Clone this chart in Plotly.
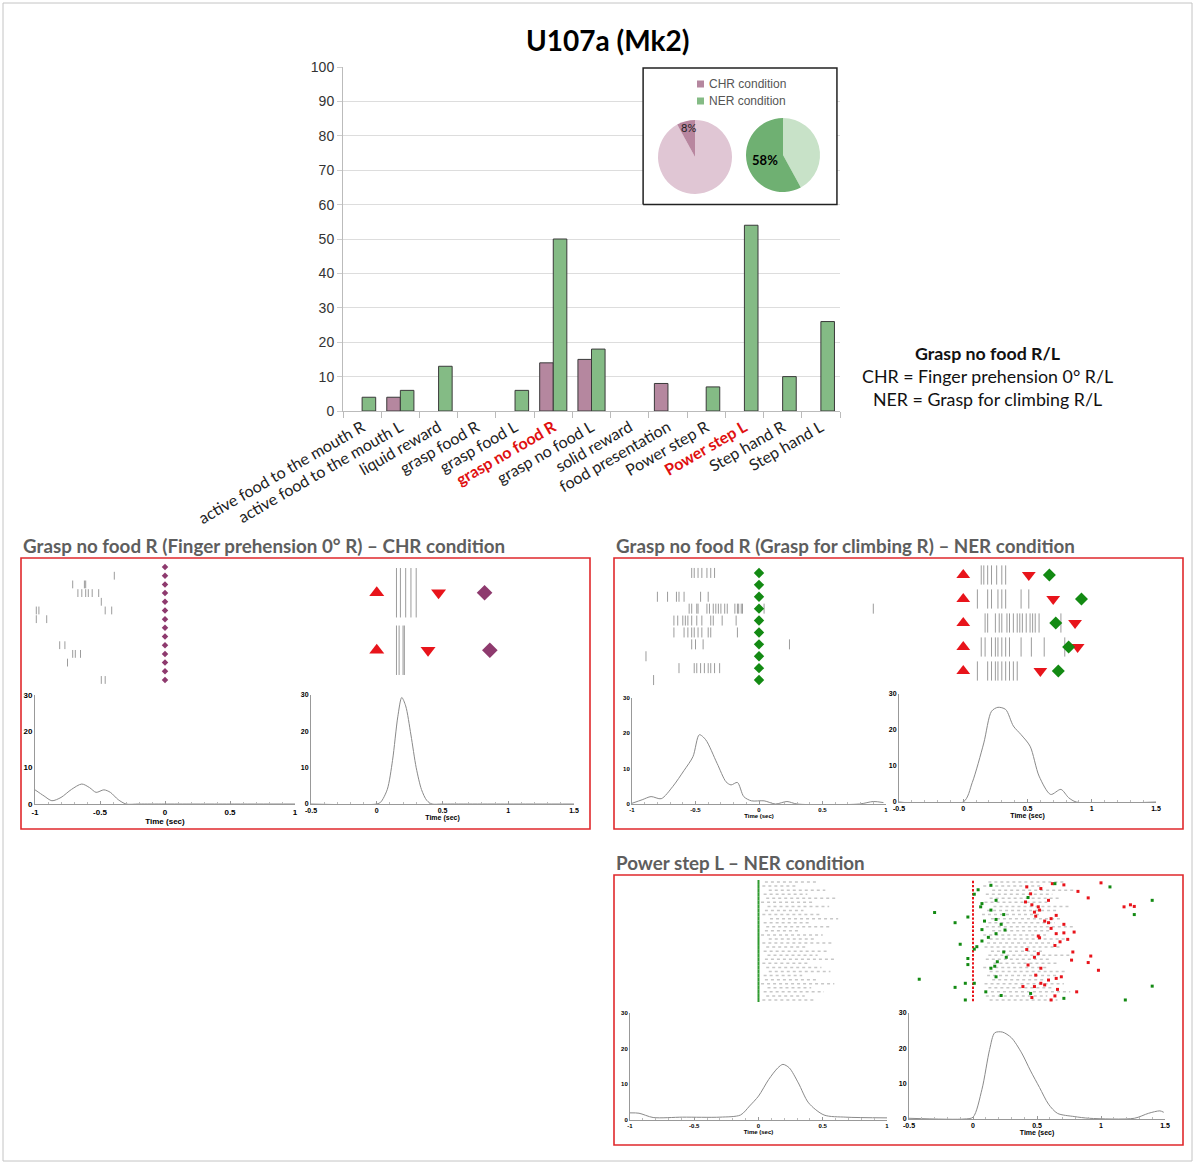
import plotly.graph_objects as go

W, H = 1195, 1164


def X(px):
    return px / W


def Y(py):
    return 1 - py / H


# ---------------- data: bar chart ----------------
categories = ["active food to the mouth R", "active food to the mouth L", "liquid reward",
              "grasp food R", "grasp food L", "grasp no food R", "grasp no food L",
              "solid reward", "food presentation", "Power step R", "Power step L",
              "Step hand R", "Step hand L"]
highlighted = ["grasp no food R", "Power step L"]
series_names = ["CHR condition", "NER condition"]
chr_pct = [0, 4, 0, 0, 0, 14, 15, 0, 8, 0, 0, 0, 0]
ner_pct = [4, 6, 13, 0, 6, 50, 18, 0, 0, 7, 54, 10, 26]
bar_yticks = [0, 10, 20, 30, 40, 50, 60, 70, 80, 90, 100]
# pies: [other, selective] (drawn clockwise from 12 o'clock)
pie_chr_values = [92, 8]
pie_ner_values = [42, 58]

# ---------------- data: panel 1 (CHR, grasp no food R) ----------------
p1_left_spikes = [[], [-0.39], [-0.71, -0.62, -0.61], [-0.67, -0.64, -0.61, -0.59, -0.56, -0.51],
                  [-0.49], [-0.99, -0.97, -0.46, -0.41], [-0.99, -0.91], [], [],
                  [-0.81, -0.77], [-0.71, -0.69, -0.65], [-0.75], [], [-0.49, -0.46]]
p1_left_event = [0, 0, 0, 0, 0, 0, 0, 0, 0, 0, 0, 0, 0, 0]
p1_right_spikes = [[0.15, 0.18, 0.22, 0.26, 0.30], [0.15, 0.17, 0.20, 0.21]]
p1_right_start = [0.0, 0.0]
p1_right_release = [0.47, 0.39]
p1_right_reward = [0.82, 0.86]
p1_left_t = [-1.0, -0.93, -0.87, -0.80, -0.72, -0.64, -0.58, -0.53, -0.47, -0.42, -0.36, -0.30, -0.2, 0.0, 0.5, 1.0]
p1_left_v = [3.9, 2.2, 0.9, 1.8, 4.0, 5.5, 4.5, 3.2, 3.9, 3.2, 1.2, 0, 0, 0, 0, 0]
p1_right_t = [-0.5, 0.0, 0.03, 0.08, 0.12, 0.16, 0.19, 0.22, 0.26, 0.30, 0.34, 0.38, 0.42, 0.5, 1.0, 1.5]
p1_right_v = [0, 0, 0.5, 4, 12, 24, 29.3, 27, 19, 10, 4, 1, 0, 0, 0, 0]

# ---------------- data: panel 2 (NER, grasp no food R) ----------------
p2_left_spikes = [
    [-0.53, -0.51, -0.48, -0.45, -0.41, -0.38, -0.35],
    [],
    [-0.80, -0.72, -0.65, -0.63, -0.59, -0.46, -0.40],
    [-0.55, -0.53, -0.49, -0.48, -0.41, -0.39, -0.36, -0.34, -0.32, -0.30, -0.27, -0.25,
     -0.19, -0.17, -0.16, -0.14, -0.13, 0.04, 0.90],
    [-0.67, -0.64, -0.60, -0.58, -0.56, -0.53, -0.49, -0.45, -0.38, -0.36, -0.29, -0.18],
    [-0.67, -0.59, -0.56, -0.53, -0.51, -0.48, -0.45, -0.40, -0.38, -0.17],
    [-0.53, -0.50, -0.44, 0.24],
    [-0.89],
    [-0.63, -0.51, -0.49, -0.46, -0.43, -0.40, -0.38, -0.35, -0.31],
    [-0.83]]
p2_left_event = [0, 0, 0, 0, 0, 0, 0, 0, 0, 0]
p2_right_spikes = [
    [0.14, 0.16, 0.19, 0.22, 0.26, 0.30, 0.33],
    [0.11, 0.19, 0.22, 0.27, 0.30, 0.33, 0.45, 0.51],
    [0.17, 0.19, 0.25, 0.28, 0.30, 0.34, 0.36, 0.39, 0.42, 0.44, 0.46, 0.49, 0.52, 0.54, 0.56, 0.59, 0.76],
    [0.14, 0.17, 0.22, 0.25, 0.27, 0.30, 0.33, 0.36, 0.45, 0.53, 0.63, 0.79],
    [0.11, 0.19, 0.22, 0.25, 0.27, 0.30, 0.33, 0.36, 0.39, 0.42]]
p2_right_start = [0.0, 0.0, 0.0, 0.0, 0.0]
p2_right_release = [0.51, 0.70, 0.87, 0.89, 0.60]
p2_right_reward = [0.67, 0.92, 0.72, 0.82, 0.74]
p2_left_t = [-1.0, -0.92, -0.85, -0.77, -0.68, -0.59, -0.52, -0.47, -0.42, -0.33, -0.26, -0.22,
             -0.17, -0.12, -0.06, 0.04, 0.13, 0.22, 0.30, 0.79, 0.90, 0.98]
p2_left_v = [0.2, 1.2, 2.1, 1.5, 4.9, 9.5, 13.4, 19.6, 18.2, 11.5, 6.3, 5.4,
             6.1, 2.1, 0.9, 0.9, 0.0, 0.7, 0.0, 0.0, 0.7, 0.4]
p2_right_t = [-0.5, 0.0, 0.07, 0.16, 0.22, 0.27, 0.33, 0.39, 0.45, 0.52, 0.59, 0.68, 0.76, 0.82, 0.88, 1.5]
p2_right_v = [0, 0, 5.4, 16.4, 25.2, 26.3, 25.7, 21.1, 18.7, 15.5, 7.2, 2.1, 3.5, 1.2, 0, 0]

# ---------------- data: panel 3 (NER, Power step L) ----------------
p3_left_burst_start = [0.05, 0.03, 0.08, 0.04, 0.06, 0.02, 0.07, 0.05, 0.03, 0.09, 0.04, 0.06, 0.05, 0.02, 0.08,
                       0.03, 0.06, 0.04, 0.07, 0.05, 0.03, 0.06, 0.08, 0.04, 0.05, 0.02, 0.07, 0.04, 0.06, 0.03]
p3_left_burst_end = [0.45, 0.30, 0.52, 0.38, 0.60, 0.42, 0.55, 0.35, 0.48, 0.62, 0.40, 0.57, 0.33, 0.50, 0.44,
                     0.58, 0.37, 0.53, 0.46, 0.61, 0.39, 0.49, 0.56, 0.34, 0.47, 0.59, 0.41, 0.51, 0.36, 0.43]
p3_right_burst_start = [0.12, 0.08, 0.15, 0.10, 0.13, 0.09, 0.16, 0.11, 0.07, 0.14, 0.12, 0.10, 0.15, 0.08, 0.13,
                        0.11, 0.09, 0.14, 0.12, 0.10, 0.16, 0.08, 0.13, 0.11, 0.15, 0.09, 0.12, 0.14, 0.10, 0.13]
p3_right_burst_end = [0.72, 0.55, 0.80, 0.62, 0.68, 0.58, 0.75, 0.66, 0.52, 0.70, 0.64, 0.78, 0.60, 0.57, 0.74,
                      0.63, 0.69, 0.54, 0.77, 0.61, 0.67, 0.59, 0.73, 0.65, 0.56, 0.71, 0.62, 0.76, 0.58, 0.66]
p3_event = [0.0] * 30
p3_red_t = [0.42, 0.45, 0.53, 0.62, 0.71, 0.82, 0.90, 0.59, 0.41, 0.46, 0.51, 0.48, 0.52, 0.49, 0.56, 0.61, 0.59,
            0.65, 0.71, 0.61, 0.65, 0.74, 0.71, 0.79, 0.51, 0.52, 0.64, 0.68, 0.42, 0.51, 0.78, 0.48, 0.92, 0.77,
            0.90, 0.43, 0.53, 0.98, 0.49, 0.59, 0.65, 0.69, 0.53, 0.48, 0.56, 0.66, 0.39, 0.46, 0.61, 0.64, 0.81,
            1.00, 1.18, 1.23, 1.26]
p3_red_trial = [2.2, 3.9, 2.6, 1.4, 1.7, 3.3, 4.9, 5.5, 5.9, 6.6, 7.1, 8.4, 7.9, 9.4, 10.6, 10.0, 11.0,
                9.2, 11.4, 12.4, 13.7, 15.1, 13.5, 13.3, 14.3, 14.7, 16.6, 15.7, 17.6, 18.6, 18.2, 19.5, 19.2, 20.2,
                20.8, 21.4, 22.2, 22.7, 23.9, 25.1, 24.7, 24.3, 25.9, 26.7, 26.3, 27.4, 26.7, 29.4, 30.0, 29.0, 28.0,
                1.2, 7.1, 6.6, 7.0]
p3_green_t = [0.14, 0.04, 0.01, 0.43, 0.64, 1.07, 0.18, 0.07, 0.06, 0.14, 0.24, -0.30, -0.04, 0.18, 0.09, -0.14,
              0.22, 0.25, 0.07, 0.18, 0.12, 0.07, -0.10, 0.03, 0.01, 0.24, 0.26, -0.04, 0.19, -0.04, 0.14, 0.17,
              -0.42, 0.18, 0.01, -0.06, -0.14, 0.10, 0.45, 0.22, -0.06, 0.71, 1.40, 1.26, 1.40, 1.19]
p3_green_trial = [1.8, 2.9, 4.0, 4.8, 1.4, 2.2, 5.5, 6.3, 7.1, 7.9, 9.0, 8.5, 9.6, 10.2, 10.6, 11.0,
                  11.4, 12.8, 12.7, 13.7, 14.6, 15.5, 16.3, 16.9, 17.5, 18.2, 19.5, 19.8, 20.6, 21.3, 22.2, 21.7,
                  24.9, 24.3, 25.9, 25.9, 26.9, 28.0, 28.4, 28.9, 30.0, 29.6, 5.5, 9.0, 26.6, 30.0]
p3_left_t = [-1.0, -0.93, -0.82, -0.59, -0.30, -0.14, -0.07, 0.0, 0.08, 0.15, 0.19, 0.24, 0.31, 0.39, 0.51, 0.68, 1.0]
p3_left_v = [2.0, 1.9, 0.7, 0.8, 0.8, 1.4, 3.9, 6.7, 11.4, 14.6, 15.6, 14.6, 10.4, 4.8, 1.4, 0.8, 0.6]
p3_right_t = [-0.5, -0.07, 0.0, 0.07, 0.13, 0.17, 0.23, 0.30, 0.38, 0.45, 0.52, 0.59, 0.66, 0.79, 0.91,
              1.26, 1.37, 1.46, 1.49]
p3_right_v = [0.2, 0, 0.5, 8.4, 19.7, 24.4, 24.6, 23.0, 18.7, 13.6, 8.9, 4.2, 1.6, 0.7, 0.2, 0.2, 1.6, 2.3, 1.9]

psth_yticks = [0, 10, 20, 30]
left_xticks = [-1, -0.5, 0, 0.5, 1]
left_xtext = ["-1", "-0.5", "0", "0.5", "1"]
right_xticks = [-0.5, 0, 0.5, 1, 1.5]
right_xtext = ["-0.5", "0", "0.5", "1", "1.5"]

# ---------------- styles ----------------
CHR_COL = "#b5879f"
NER_COL = "#84bb85"
SPIKE = "#9c9c9c"
RED = "#e8141b"
PURPLE = "#8e3a6e"
GREEN = "#138a13"
FONT = "Lato"

fig = go.Figure()
layout = {}

# ---------------- bar chart ----------------
cat_pos = list(range(len(categories)))
fig.add_trace(go.Bar(x=cat_pos, y=[v if v else None for v in chr_pct], name=series_names[0],
                     marker=dict(color=CHR_COL, line=dict(color="#3a3a3a", width=1)),
                     xaxis="x", yaxis="y", hoverinfo="skip", showlegend=False))
fig.add_trace(go.Bar(x=cat_pos, y=[v if v else None for v in ner_pct], name=series_names[1],
                     marker=dict(color=NER_COL, line=dict(color="#3a3a3a", width=1)),
                     xaxis="x", yaxis="y", hoverinfo="skip", showlegend=False))

# white inset box (legend + pies) drawn above gridlines
bx0, bx1 = 7.35, 12.42
by0, by1 = 60, 99.7
fig.add_trace(go.Scatter(x=[bx0, bx1, bx1, bx0, bx0], y=[by0, by0, by1, by1, by0], mode="lines",
                         fill="toself", fillcolor="white", line=dict(color="#222", width=1.5),
                         xaxis="x", yaxis="y", showlegend=False, hoverinfo="skip"))

ticktext = []
for c in categories:
    if c in highlighted:
        ticktext.append(f"<b><span style='color:#e01010'>{c}</span></b>")
    else:
        ticktext.append(c)

layout["xaxis"] = dict(domain=[X(343), X(840)], range=[-0.5, len(categories) - 0.5], anchor="y",
                       automargin=False,
                       tickmode="array", tickvals=cat_pos, ticktext=ticktext, tickangle=-30,
                       tickfont=dict(family=FONT, size=16, color="#222"), ticks="",
                       showline=True, linecolor="#bbbbbb", showgrid=False, zeroline=False,
                       minor=dict(ticks="outside", ticklen=6, tickcolor="#bbbbbb",
                                  tickvals=[p - 0.5 for p in cat_pos] + [cat_pos[-1] + 0.5]))
layout["yaxis"] = dict(domain=[Y(411), Y(67)], range=[0, 100], anchor="x", tickvals=bar_yticks,
                       automargin=False,
                       tickfont=dict(family="Liberation Sans", size=14, color="#333"),
                       ticks="outside", ticklen=5, tickcolor="#cccccc", showline=True, linecolor="#bbbbbb",
                       showgrid=True, gridcolor="#dddddd", zeroline=False)

# pies
fig.add_trace(go.Pie(values=pie_chr_values, labels=["CHR other", "CHR"], sort=False, direction="clockwise",
                     marker=dict(colors=["#e0c6d4", "#b8869f"]), textinfo="none",
                     domain=dict(x=[X(658), X(732)], y=[Y(194), Y(120)]), showlegend=False,
                     hoverinfo="skip"))
fig.add_trace(go.Pie(values=pie_ner_values, labels=["NER other", "NER"], sort=False, direction="clockwise",
                     marker=dict(colors=["#c8e2c8", "#6fb072"]), textinfo="text",
                     text=["", f"{pie_ner_values[1]}%"], textposition="inside",
                     insidetextorientation="horizontal",
                     textfont=dict(family=FONT, size=13, color="black", weight="bold"),
                     domain=dict(x=[X(746), X(820)], y=[Y(192), Y(118)]), showlegend=False,
                     hoverinfo="skip"))

annotations = []
annotations.append(dict(x=X(688), y=Y(127), xref="paper", yref="paper", text=f"{pie_chr_values[1]}%",
                        xanchor="center", yanchor="middle",
                        showarrow=False, font=dict(family=FONT, size=11, color="#222")))

shapes = []
# manual legend
for i, (name, col) in enumerate(zip(series_names, [CHR_COL, NER_COL])):
    cy = 84 + 17 * i
    shapes.append(dict(type="rect", xref="paper", yref="paper", x0=X(697), x1=X(704), y0=Y(cy + 3.5),
                       y1=Y(cy - 3.5), fillcolor=col, line=dict(width=0)))
    annotations.append(dict(x=X(707), y=Y(cy), xref="paper", yref="paper", text=name, xanchor="left",
                            yanchor="middle", showarrow=False,
                            font=dict(family="Liberation Sans", size=12, color="#555")))


# ---------------- helpers ----------------
def spike_trace(trials, ax, half, color, width=1):
    xs, ys = [], []
    for i, times in enumerate(trials, 1):
        for t in times:
            xs += [t, t, None]
            ys += [i - half, i + half, None]
    return go.Scatter(x=xs, y=ys, mode="lines", line=dict(color=color, width=width),
                      xaxis="x" + ax, yaxis="y" + ax, showlegend=False, hoverinfo="skip")


def event_trace(times, ax, symbol, color, size):
    return go.Scatter(x=times, y=list(range(1, len(times) + 1)), mode="markers",
                      marker=dict(symbol=symbol, color=color, size=size, line=dict(width=0)),
                      xaxis="x" + ax, yaxis="y" + ax, showlegend=False, hoverinfo="skip")


def burst_trace(starts, ends, ax):
    xs, ys = [], []
    for i, (s, e) in enumerate(zip(starts, ends), 1):
        xs += [s, e, None]
        ys += [i, i, None]
    return go.Scatter(x=xs, y=ys, mode="lines", line=dict(color="#c8c8c8", width=1.5, dash="dot"),
                      xaxis="x" + ax, yaxis="y" + ax, showlegend=False, hoverinfo="skip")


def psth_trace(t, v, ax):
    return go.Scatter(x=t, y=v, mode="lines", line=dict(color="#8a8a8a", width=1, shape="spline", smoothing=0.8),
                      xaxis="x" + ax, yaxis="y" + ax, showlegend=False, hoverinfo="skip")


def raster_axes(ax, xdom, xrange, ydom, ntrials):
    layout["xaxis" + ax] = dict(domain=[X(xdom[0]), X(xdom[1])], range=xrange, anchor="y" + ax,
                                visible=False, automargin=False)
    layout["yaxis" + ax] = dict(domain=[Y(ydom[1]), Y(ydom[0])], range=[ntrials + 0.5, 0.5],
                                anchor="x" + ax, visible=False, automargin=False)


def psth_axes(ax, xdom, xrange, xticks, xtext, ydom, fs=7):
    layout["xaxis" + ax] = dict(domain=[X(xdom[0]), X(xdom[1])], range=xrange, anchor="y" + ax,
                                automargin=False,
                                tickmode="array", tickvals=xticks, ticktext=xtext,
                                tickfont=dict(family="Liberation Sans", size=fs, color="black", weight="bold"),
                                ticks="inside", ticklen=3, tickcolor="#999",
                                minor=dict(ticks="inside", ticklen=2, dtick=0.1, tick0=0, tickcolor="#bbb"),
                                showline=True, linecolor="#999", linewidth=1, showgrid=False, zeroline=False,
                                title=dict(text="Time (sec)", standoff=1,
                                           font=dict(family="Liberation Sans", size=fs, color="black",
                                                     weight="bold")))
    layout["yaxis" + ax] = dict(domain=[Y(ydom[1]), Y(ydom[0])], range=[0, 30], anchor="x" + ax,
                                automargin=False,
                                tickmode="array", tickvals=psth_yticks,
                                tickfont=dict(family="Liberation Sans", size=fs, color="black", weight="bold"),
                                ticks="", showline=True, linecolor="#999", linewidth=1,
                                showgrid=False, zeroline=False)


# ---------------- panel 1 ----------------
raster_axes("2", (35, 295), [-1, 1], (562.7, 684.3), len(p1_left_spikes))
fig.add_trace(spike_trace(p1_left_spikes, "2", 0.45, SPIKE))
fig.add_trace(event_trace(p1_left_event, "2", "diamond", PURPLE, 5))

raster_axes("3", (311, 574), [-0.5, 1.5], (564, 679), len(p1_right_spikes))
fig.add_trace(spike_trace(p1_right_spikes, "3", 0.43, SPIKE))
fig.add_trace(event_trace(p1_right_start, "3", "triangle-up", RED, 13))
fig.add_trace(event_trace(p1_right_release, "3", "triangle-down", RED, 13))
fig.add_trace(event_trace(p1_right_reward, "3", "diamond", PURPLE, 12))

psth_axes("4", (35, 295), [-1, 1], left_xticks, left_xtext, (695, 804), fs=8)
fig.add_trace(psth_trace(p1_left_t, p1_left_v, "4"))
psth_axes("5", (311, 574), [-0.5, 1.5], right_xticks, right_xtext, (695, 804), fs=7)
fig.add_trace(psth_trace(p1_right_t, p1_right_v, "5"))

# ---------------- panel 2 ----------------
raster_axes("6", (632, 886), [-1, 1], (567, 686), len(p2_left_spikes))
fig.add_trace(spike_trace(p2_left_spikes, "6", 0.42, SPIKE))
fig.add_trace(event_trace(p2_left_event, "6", "diamond", GREEN, 8))

raster_axes("7", (899, 1156), [-0.5, 1.5], (563, 683), len(p2_right_spikes))
fig.add_trace(spike_trace(p2_right_spikes, "7", 0.4, SPIKE))
fig.add_trace(event_trace(p2_right_start, "7", "triangle-up", RED, 12))
fig.add_trace(event_trace(p2_right_release, "7", "triangle-down", RED, 12))
fig.add_trace(event_trace(p2_right_reward, "7", "diamond", GREEN, 10))

psth_axes("8", (632, 886), [-1, 1], left_xticks, left_xtext, (698, 804), fs=6)
fig.add_trace(psth_trace(p2_left_t, p2_left_v, "8"))
psth_axes("9", (899, 1156), [-0.5, 1.5], right_xticks, right_xtext, (694, 802), fs=7)
fig.add_trace(psth_trace(p2_right_t, p2_right_v, "9"))

# ---------------- panel 3 ----------------
raster_axes("10", (630, 887), [-1, 1], (880, 1002), len(p3_event))
fig.add_trace(burst_trace(p3_left_burst_start, p3_left_burst_end, "10"))
fig.add_trace(spike_trace([[t] for t in p3_event], "10", 0.5, "#2e9a2e", 2))

raster_axes("11", (909, 1165), [-0.5, 1.5], (880, 1002), len(p3_event))
fig.add_trace(burst_trace(p3_right_burst_start, p3_right_burst_end, "11"))
fig.add_trace(spike_trace([[t] for t in p3_event], "11", 0.3, RED, 2))
fig.add_trace(go.Scatter(x=p3_red_t, y=p3_red_trial, mode="markers",
                         marker=dict(symbol="square", size=3, color=RED), xaxis="x11", yaxis="y11",
                         showlegend=False, hoverinfo="skip"))
fig.add_trace(go.Scatter(x=p3_green_t, y=p3_green_trial, mode="markers",
                         marker=dict(symbol="square", size=3, color=GREEN), xaxis="x11", yaxis="y11",
                         showlegend=False, hoverinfo="skip"))

psth_axes("12", (630, 887), [-1, 1], left_xticks, left_xtext, (1013, 1120), fs=6)
fig.add_trace(psth_trace(p3_left_t, p3_left_v, "12"))
psth_axes("13", (909, 1165), [-0.5, 1.5], right_xticks, right_xtext, (1013, 1119), fs=7)
fig.add_trace(psth_trace(p3_right_t, p3_right_v, "13"))

# ---------------- texts ----------------
annotations.append(dict(x=X(607), y=Y(40), xref="paper", yref="paper", text="<b>U107a (Mk2)</b>",
                        xanchor="center", yanchor="middle",
                        showarrow=False, font=dict(family=FONT, size=28, color="black")))
side_lines = ["<b>Grasp no food R/L</b>", "CHR = Finger prehension 0° R/L", "NER = Grasp for climbing R/L"]
for i, line in enumerate(side_lines):
    annotations.append(dict(x=X(987), y=Y(353 + 23 * i), xref="paper", yref="paper", text=line,
                            xanchor="center", yanchor="middle",
                            showarrow=False, font=dict(family=FONT, size=17.8, color="#111")))
panel_titles = [("Grasp no food R (Finger prehension 0° R) – CHR condition", 21, 545),
                ("Grasp no food R (Grasp for climbing R) – NER condition", 614, 545),
                ("Power step L – NER condition", 614, 862)]
for txt, px, py in panel_titles:
    annotations.append(dict(x=X(px), y=Y(py), xref="paper", yref="paper", text=f"<b>{txt}</b>",
                            xanchor="left", yanchor="middle", showarrow=False,
                            font=dict(family=FONT, size=18.8, color="#5e5e5e")))

shapes.append(dict(type="rect", xref="paper", yref="paper", x0=X(3), x1=X(1192), y0=Y(1161), y1=Y(3),
                   line=dict(color="#c4c4c4", width=1)))
for (x0, y0, x1, y1) in [(21, 558, 590, 829), (614, 558, 1183, 829), (614, 875, 1183, 1145)]:
    shapes.append(dict(type="rect", xref="paper", yref="paper", x0=X(x0), x1=X(x1), y0=Y(y1), y1=Y(y0),
                       line=dict(color="#e0282c", width=1.6)))

fig.update_layout(
    width=W, height=H, margin=dict(l=0, r=0, t=0, b=0, autoexpand=False),
    paper_bgcolor="white", plot_bgcolor="rgba(0,0,0,0)",
    barmode="group", bargap=0.29, bargroupgap=0,
    showlegend=False,
    annotations=annotations, shapes=shapes,
    **layout,
)

fig.write_html("out.html", config={"displayModeBar": False},
               post_script="document.body.style.margin='0';")
